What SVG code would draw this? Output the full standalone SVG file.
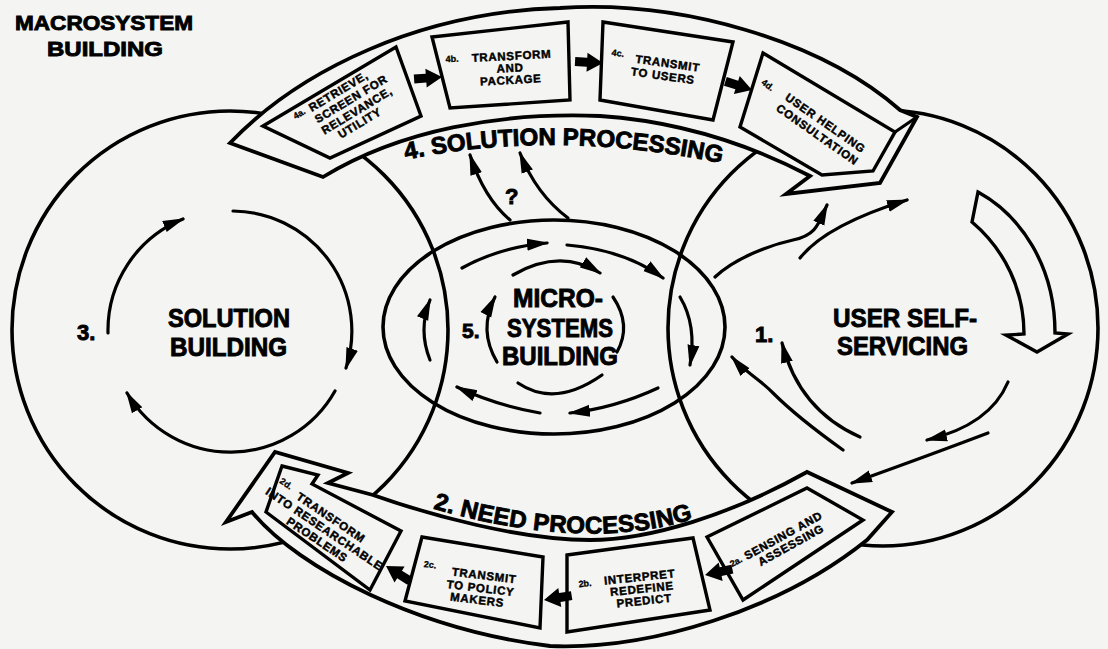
<svg xmlns="http://www.w3.org/2000/svg" width="1108" height="649" viewBox="0 0 1108 649">
<defs>
<style>
.ln{fill:none;stroke:#000;stroke-width:3.6;stroke-linecap:round}
.ar{fill:none;stroke:#000;stroke-width:3.2;stroke-linecap:round;marker-end:url(#ah)}
.pl{fill:none;stroke:#000;stroke-width:3.2;stroke-linecap:round}
.band{fill:#f4f4f2;stroke:#000;stroke-width:3.8;stroke-linejoin:miter}
.box{fill:#f4f4f2;stroke:#000;stroke-width:3.4;stroke-linejoin:miter}
.t{font-family:"Liberation Sans",Arial,sans-serif;font-weight:bold;fill:#000;stroke:#000;stroke-width:0.9}
.bx{font-size:11.5px;letter-spacing:0.7px;stroke-width:0.45}
.sm{font-size:9px;stroke-width:0.3}
.mid{text-anchor:middle}
</style>
<marker id="ah" markerUnits="userSpaceOnUse" markerWidth="24" markerHeight="14" refX="20" refY="7" orient="auto"><path d="M0,1 L22,7 L0,13 Z" fill="#000"/></marker>
<path id="ba" d="M-28,-4.5 L-16,-4.5 L-16,-9.5 L0,0 L-16,9.5 L-16,4.5 L-28,4.5 Z"/>
<path id="sp" d="M400,161 Q555,127 730,165"/>
<path id="np" d="M428,507 Q590,555 702,516"/>
</defs>
<rect width="1108" height="649" fill="#f4f4f2"/>

<g id="title">
<text class="t" x="15" y="30" font-size="21" textLength="178" lengthAdjust="spacingAndGlyphs">MACROSYSTEM</text>
<text class="t" x="47" y="56" font-size="21" textLength="116" lengthAdjust="spacingAndGlyphs">BUILDING</text>
</g>

<g id="lobe-3-solution-building">
<ellipse class="ln" cx="230" cy="330" rx="218" ry="219"/>
<text class="t" x="77" y="340" font-size="22">3.</text>
<text class="t" x="168" y="327" font-size="25" textLength="122" lengthAdjust="spacingAndGlyphs">SOLUTION</text>
<text class="t" x="170" y="356" font-size="25" textLength="117" lengthAdjust="spacingAndGlyphs">BUILDING</text>
</g>

<g id="lobe-1-user-self-servicing">
<ellipse class="ln" cx="883" cy="328" rx="215" ry="218"/>
<path d="M978,192 C1020,215 1055,265 1055,333 L1068,334 L1037,352 L1006,335 L1024,334 C1024,290 1005,250 972,222 Z" fill="#f4f4f2" stroke="#000" stroke-width="3.4" stroke-linejoin="miter"/>
<text class="t" x="755" y="342" font-size="22">1.</text>
<text class="t" x="833" y="327" font-size="26" textLength="144" lengthAdjust="spacingAndGlyphs">USER SELF-</text>
<text class="t" x="837" y="355" font-size="26" textLength="131" lengthAdjust="spacingAndGlyphs">SERVICING</text>
</g>

<g id="micro-5-systems-building">
<ellipse class="ln" cx="554" cy="327" rx="171" ry="107"/>
<text class="t" x="462" y="338" font-size="21">5.</text>
<text class="t" x="513" y="307" font-size="25" textLength="90" lengthAdjust="spacingAndGlyphs">MICRO-</text>
<text class="t" x="507" y="337" font-size="25" textLength="106" lengthAdjust="spacingAndGlyphs">SYSTEMS</text>
<text class="t" x="502" y="365" font-size="25" textLength="116" lengthAdjust="spacingAndGlyphs">BUILDING</text>
</g>

<g id="band-4-solution-processing">
<path class="band" d="M230,143 C300,70 420,12 560,8 C680,0 820,40 900,110 L917,117 L880,183 L786,194 L810,176 C760,150 690,122 600,116 C500,112 400,130 323,177 Z"/>
<text class="t" font-size="24"><textPath href="#sp" startOffset="6" textLength="318" lengthAdjust="spacing">4. SOLUTION PROCESSING</textPath></text>
</g>

<g id="band-2-need-processing">
<path class="band" d="M807,472 C730,515 650,540 590,540 C520,540 430,515 373,495 L328,483 L348,473 L275,452 L226,522 L252,512 C300,570 420,630 550,646 C650,650 780,610 867,540 L892,512 Z"/>
<text class="t" font-size="24"><textPath href="#np" startOffset="5" textLength="264" lengthAdjust="spacing">2. NEED PROCESSING</textPath></text>
</g>

<g id="box-4a">
<polygon class="box" points="263,126 396,47 421,116 330,158"/>
<g transform="rotate(-31 350 103)">
<text class="t sm mid" x="301" y="89">4a.</text>
<text class="t bx mid" x="346" y="91" font-size="12">RETRIEVE,</text>
<text class="t bx mid" x="353" y="104" font-size="12">SCREEN FOR</text>
<text class="t bx mid" x="352" y="117" font-size="12">RELEVANCE,</text>
<text class="t bx mid" x="348" y="129" font-size="12">UTILITY</text>
</g>
</g>

<g id="box-4b">
<polygon class="box" points="432,37 568,22 570,100 450,108"/>
<g transform="rotate(-3 510 65)">
<text class="t sm" x="446" y="59">4b.</text>
<text class="t bx mid" x="512" y="60">TRANSFORM</text>
<text class="t bx mid" x="510" y="72">AND</text>
<text class="t bx mid" x="510" y="84">PACKAGE</text>
</g>
</g>

<g id="box-4c">
<polygon class="box" points="603,22 733,42 713,120 600,100"/>
<g transform="rotate(8 665 68)">
<text class="t sm" x="610" y="63">4c.</text>
<text class="t bx mid" x="667" y="67">TRANSMIT</text>
<text class="t bx mid" x="664" y="80">TO USERS</text>
</g>
</g>

<g id="box-4d">
<polygon class="box" points="763,53 895,132 873,171 822,175 740,127"/>
<path class="pl" d="M895,132 L917,117"/>
<g transform="rotate(35 822 128)">
<text class="t sm mid" x="753" y="127">4d.</text>
<text class="t bx mid" x="822" y="126">USER HELPING</text>
<text class="t bx mid" x="822" y="140">CONSULTATION</text>
</g>
</g>

<g id="box-2a">
<polygon class="box" points="807,488 863,520 743,600 707,537"/>
<g transform="rotate(-29 788 542)">
<text class="t sm mid" x="733" y="537">2a.</text>
<text class="t bx mid" x="787" y="538" letter-spacing="0.2">SENSING AND</text>
<text class="t bx mid" x="789" y="550" letter-spacing="0.2">ASSESSING</text>
</g>
</g>

<g id="box-2b">
<polygon class="box" points="567,555 693,538 710,610 567,632"/>
<g transform="rotate(-6 640 590)">
<text class="t sm mid" x="586" y="581">2b.</text>
<text class="t bx mid" x="641" y="581">INTERPRET</text>
<text class="t bx mid" x="642" y="593">REDEFINE</text>
<text class="t bx mid" x="643" y="605">PREDICT</text>
</g>
</g>

<g id="box-2c">
<polygon class="box" points="422,537 543,557 540,628 405,601"/>
<g transform="rotate(7 480 585)">
<text class="t sm mid" x="428" y="574">2c.</text>
<text class="t bx mid" x="483" y="579">TRANSMIT</text>
<text class="t bx mid" x="481" y="592">TO POLICY</text>
<text class="t bx mid" x="479" y="604">MAKERS</text>
</g>
</g>

<g id="box-2d">
<polygon class="box" points="282,466 318,475 312,484 401,531 370,590 266,512"/>
<g transform="rotate(34 330 517)">
<text class="t sm mid" x="275" y="517">2d.</text>
<text class="t bx mid" x="331" y="521">TRANSFORM</text>
<text class="t bx mid" x="332" y="534">INTO RESEARCHABLE</text>
<text class="t bx mid" x="332" y="547">PROBLEMS</text>
</g>
</g>

<g id="question">
<text class="t" x="505" y="204" font-size="22">?</text>
</g>

<g id="connectors">
<path class="ar" d="M108,333 A120,120 0 0 1 183,219"/>
<path class="ar" d="M233,211 A120,120 0 0 1 346,368"/>
<path class="ar" d="M335,391 A120,120 0 0 1 127,393"/>
<path class="ar" d="M462,268 Q500,247 547,243"/>
<path class="ar" d="M567,245 Q625,250 663,278"/>
<path class="ar" d="M680,297 Q697,325 690,365"/>
<path class="ar" d="M658,388 Q615,408 570,413"/>
<path class="ar" d="M540,413 Q495,405 457,387"/>
<path class="ar" d="M430,360 Q418,330 430,300"/>
<path class="ar" d="M513,275 Q560,248 600,273"/>
<path class="pl" d="M613,297 Q632,325 617,352"/>
<path class="pl" d="M602,375 Q555,408 518,383"/>
<path class="ar" d="M497,362 Q478,330 495,297"/>
<path class="ar" d="M510,220 Q484,198 470,155"/>
<path class="ar" d="M568,218 Q536,194 520,153"/>
<path class="ar" d="M800,258 Q826,225 907,200"/>
<path class="ar" d="M715,277 C735,258 770,245 793,240 S818,225 827,205"/>
<path class="ar" d="M1008,382 Q990,425 927,440"/>
<path class="ar" d="M988,433 Q930,455 852,483"/>
<path class="ar" d="M860,437 Q799,410 782,343"/>
<path class="ar" d="M843,450 C815,430 790,410 773,393 S745,372 732,357"/>
<use href="#ba" transform="translate(442,77) rotate(-4)"/>
<use href="#ba" transform="translate(603,63) rotate(3)"/>
<use href="#ba" transform="translate(752,90) rotate(18)"/>
<use href="#ba" transform="translate(705,575) rotate(168)"/>
<use href="#ba" transform="translate(544,600) rotate(171)"/>
<use href="#ba" transform="translate(386,566) rotate(212)"/>
</g>
</svg>
